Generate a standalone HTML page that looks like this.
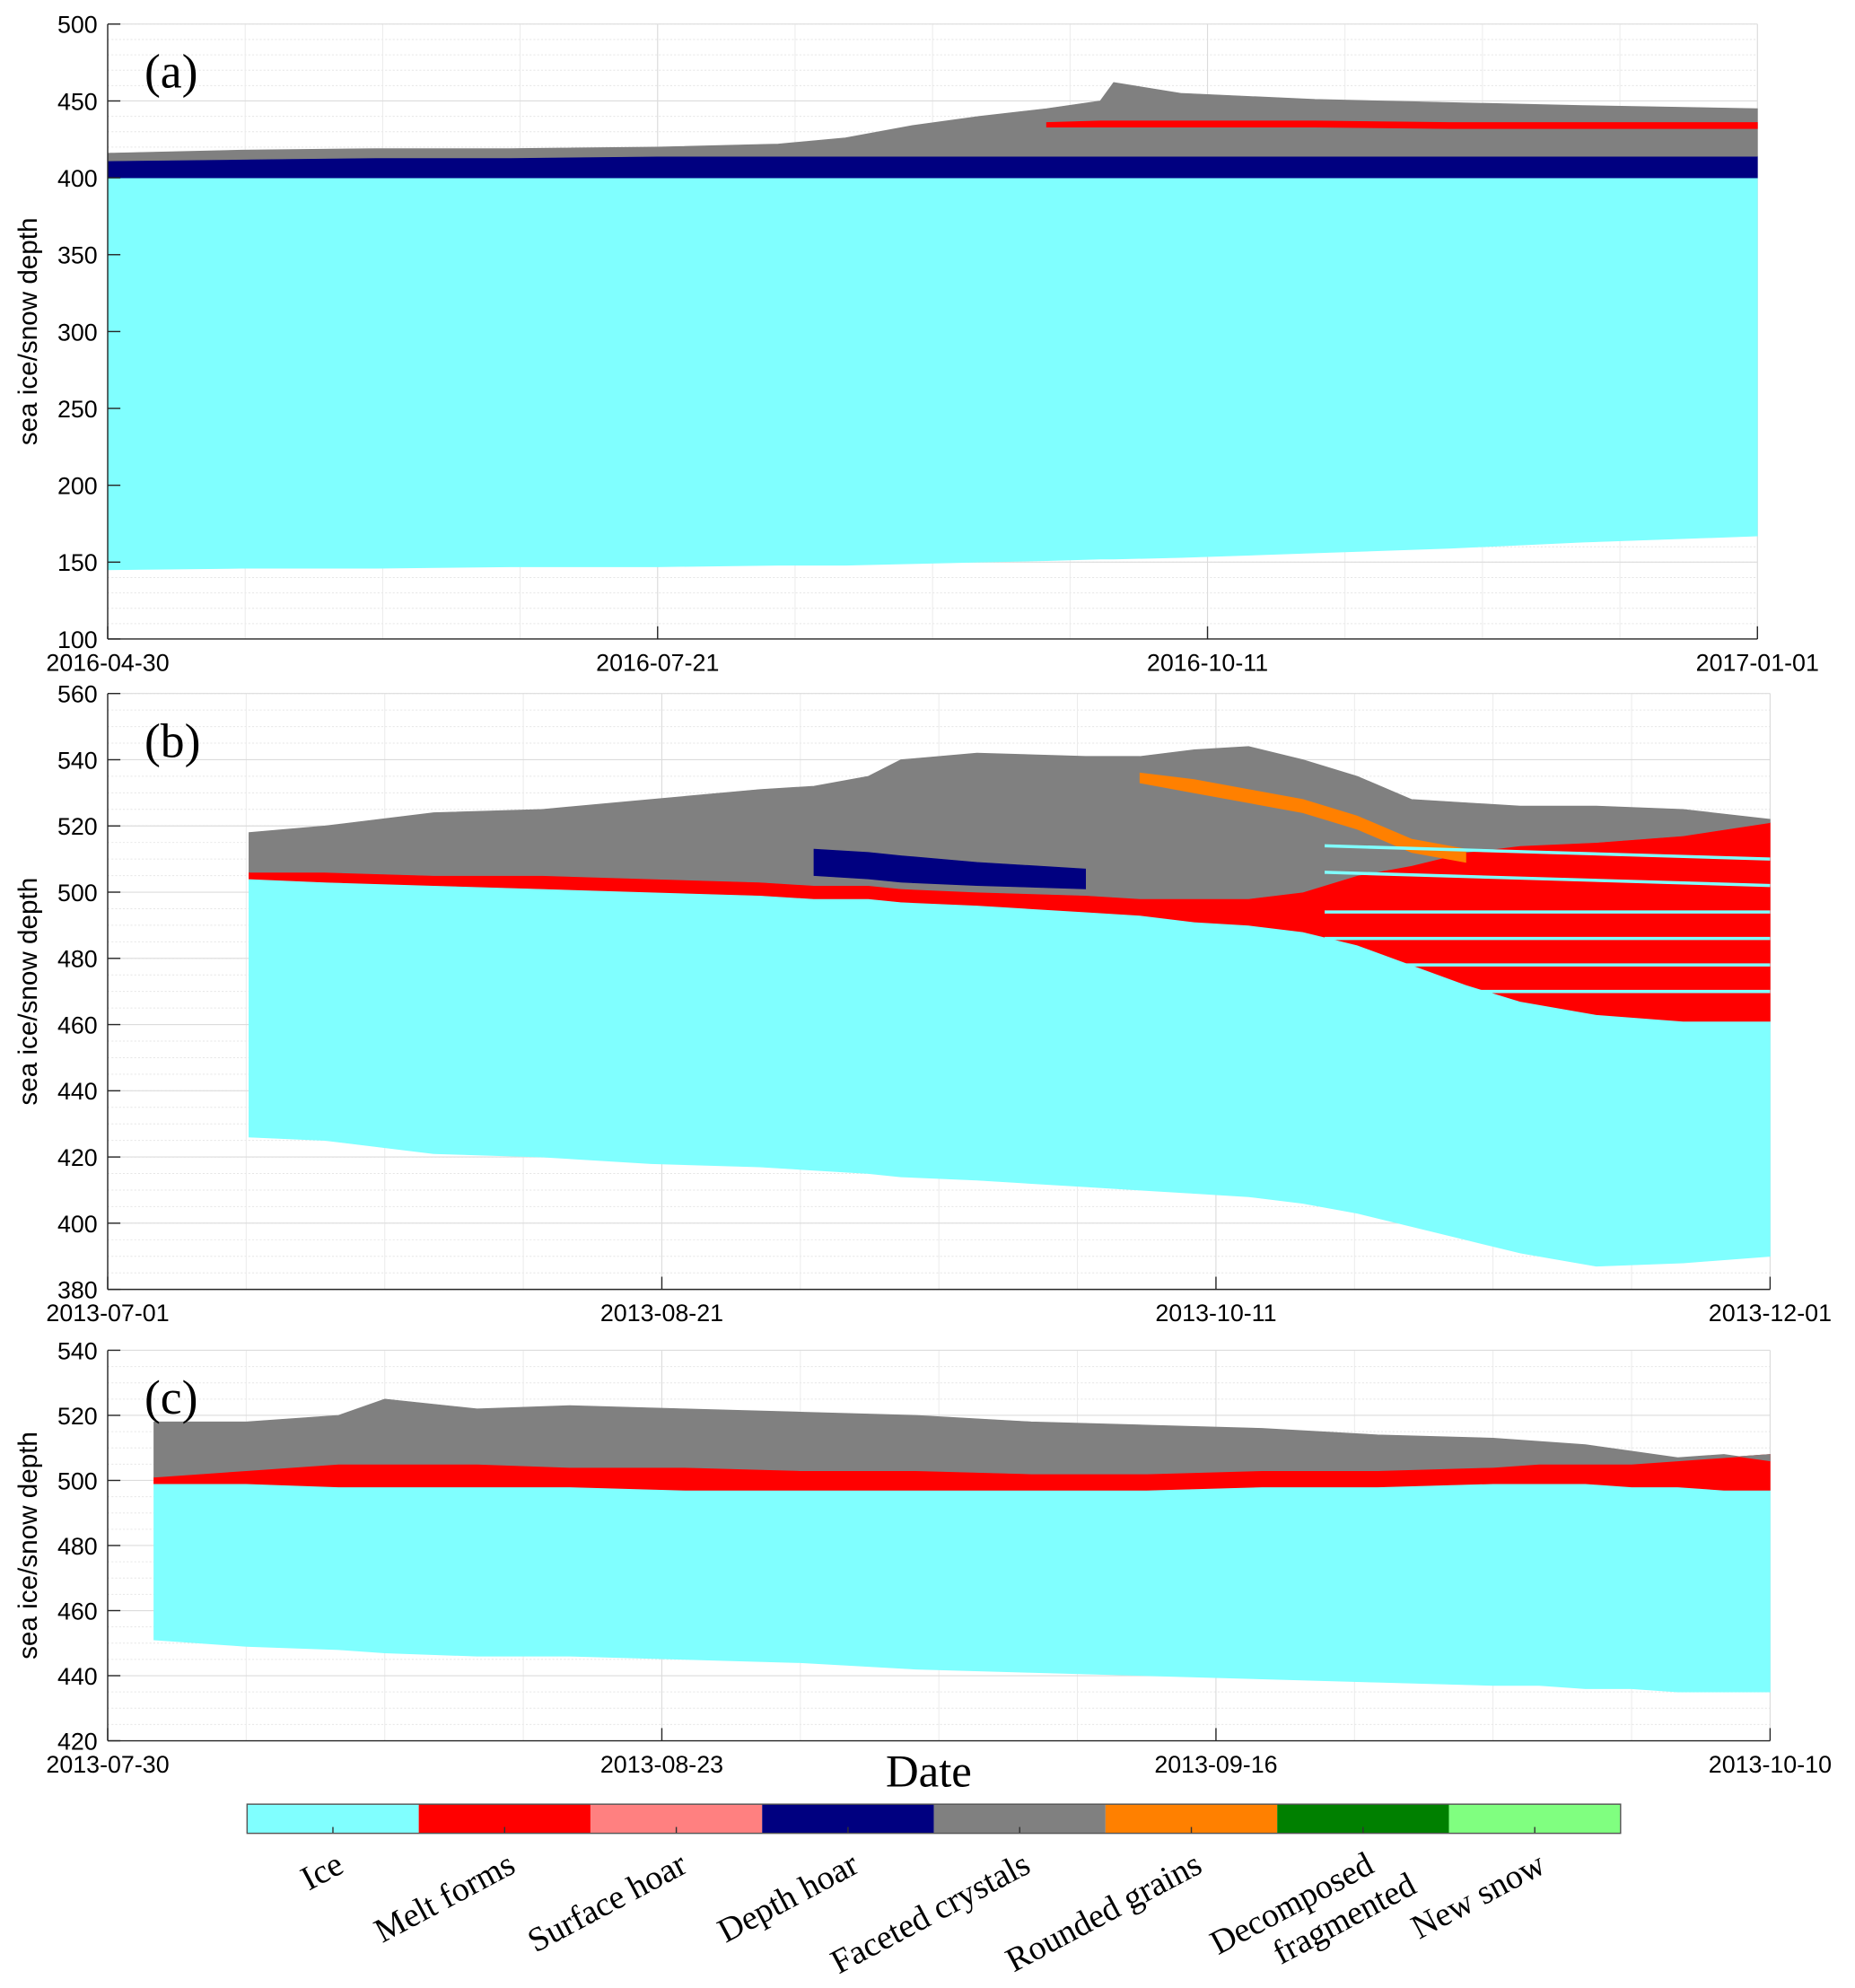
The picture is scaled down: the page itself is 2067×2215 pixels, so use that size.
<!DOCTYPE html>
<html><head><meta charset="utf-8"><style>
html,body{margin:0;padding:0;background:#fff}
svg{display:block}
</style></head><body>
<svg id="fig" width="2067" height="2215" viewBox="0 0 1464 1568" preserveAspectRatio="none" xmlns="http://www.w3.org/2000/svg" font-family="Liberation Sans, sans-serif"></svg>
<script>
const COL={ice:'#80ffff',melt:'#ff0000',shoar:'#ff8080',dhoar:'#000080',facet:'#808080',round:'#ff8000',decomp:'#008000',newsnow:'#80ff80'};
// ---- Panel A data ----
const aDays=[0,20,40,60,82,100,110,120,130,140,148,150,160,180,200,220,246];
const aIceBot=[145,146,146,147,147,148,148,149,150,151,152,152,153,156,159,163,167];
const aIceTop=[400,400,400,400,400,400,400,400,400,400,400,400,400,400,400,400,400];
const aHoarTop=[411,412,413,413,414,414,414,414,414,414,414,414,414,414,414,414,414];
const aMeltBot=[0,0,0,0,0,0,0,0,0,433,433,433,433,433,432,432,432];
const aMeltTop=[0,0,0,0,0,0,0,0,0,436,437,437,437,437,436,436,436];
const aSnowTop=[416,418,419,419,420,422,426,434,440,445,450,462,455,451,449,447,445];
// ---- Panel B data ----
const bDays=[13,20,30,40,50,60,65,70,73,80,90,95,100,105,110,115,120,125,130,137,145,153];
const bIceBot=[426,425,421,420,418,417,416,415,414,413,411,410,409,408,406,403,399,395,391,387,388,390];
const bIceTop=[504,503,502,501,500,499,498,498,497,496,494,493,491,490,488,484,478,472,467,463,461,461];
const bMeltTop=[506,506,505,505,504,503,502,502,501,500,499,498,498,498,500,505,508,512,514,515,517,521];
const bSnowTop=[518,520,524,525,528,531,532,535,540,542,541,541,543,544,540,535,528,527,526,526,525,522];
const bHoarBot=[0,0,0,0,0,0,505,504,503,502,501,0,0,0,0,0,0,0,0,0,0,0];
const bHoarTop=[0,0,0,0,0,0,513,512,511,509,507,0,0,0,0,0,0,0,0,0,0,0];
const bRoundBot=[0,0,0,0,0,0,0,0,0,0,0,533,530,527,524,519,512,509,0,0,0,0];
const bRoundTop=[0,0,0,0,0,0,0,0,0,0,0,536,534,531,528,523,516,513,0,0,0,0];
const bStripes=[470,478,486,494,502,510];
// ---- Panel C data ----
const cDays=[2,6,10,12,16,20,25,30,35,40,45,50,55,60,62,64,66,68,70,72];
const cIceBot=[451,449,448,447,446,446,445,444,442,441,440,439,438,437,437,436,436,435,435,435];
const cIceTop=[499,499,498,498,498,498,497,497,497,497,497,498,498,499,499,499,498,498,497,497];
const cMeltTop=[501,503,505,505,505,504,504,503,503,502,502,503,503,504,505,505,505,506,507,508];
const cSnowTop=[518,518,520,525,522,523,522,521,520,518,517,516,514,513,512,511,509,507,508,506];
// ---- Legend ----
const legendLabels=[['Ice'],['Melt forms'],['Surface hoar'],['Depth hoar'],['Faceted crystals'],['Rounded grains'],['Decomposed','fragmented'],['New snow']];
const legendKeys=['ice','melt','shoar','dhoar','facet','round','decomp','newsnow'];
const aTicks=['2016-04-30','2016-07-21','2016-10-11','2017-01-01'];
const bTicks=['2013-07-01','2013-08-21','2013-10-11','2013-12-01'];
const cTicks=['2013-07-30','2013-08-23','2013-09-16','2013-10-10'];

const svg=document.getElementById('fig');
const NS='http://www.w3.org/2000/svg';
function mk(tag,attrs,parent){const e=document.createElementNS(NS,tag);for(const k in attrs)e.setAttribute(k,attrs[k]);(parent||svg).appendChild(e);return e;}

function panel(cfg){
  const g=mk('g',{});
  
  
  const {x0,x1,y0,y1,dmax,vmin,vmax}=cfg;
  const X=d=>x0+(x1-x0)*d/dmax, Y=v=>y1-(y1-y0)*(v-vmin)/(vmax-vmin);
  for(let v=vmin;v<=vmax;v+=cfg.minor){mk('line',{x1:x0,x2:x1,y1:Y(v),y2:Y(v),stroke:'#e6e6e6','stroke-width':0.7,'stroke-dasharray':'1.5 1.5'},g);}
  for(let i=0;i<=12;i++){const d=dmax*i/12;mk('line',{x1:X(d),x2:X(d),y1:y0,y2:y1,stroke:'#ebebeb','stroke-width':0.7},g);}
  for(let v=vmin;v<=vmax;v+=cfg.major){mk('line',{x1:x0,x2:x1,y1:Y(v),y2:Y(v),stroke:'#dcdcdc','stroke-width':0.8},g);}
  for(let i=0;i<4;i++){const d=dmax*i/3;mk('line',{x1:X(d),x2:X(d),y1:y0,y2:y1,stroke:'#dcdcdc','stroke-width':0.8},g);}
  function band(days,lo,hi,col,nm){
    let seg=[];const segs=[];
    days.forEach((d,i)=>{if(lo[i]>0&&hi[i]>0)seg.push(i);else if(seg.length){segs.push(seg);seg=[];}});
    if(seg.length)segs.push(seg);
    segs.forEach(s=>{
      let pts=[];
      s.forEach(i=>pts.push(X(days[i])+','+Y(hi[i])));
      for(let k=s.length-1;k>=0;k--){const i=s[k];pts.push(X(days[i])+','+Y(lo[i]));}
      const p=mk('polygon',{points:pts.join(' '),fill:col,stroke:col,'stroke-width':0.5},g);
      
      
    });
  }
  cfg.bands.forEach(b=>band(cfg.days,b[0],b[1],b[2],b[3]));
  if(cfg.extra)cfg.extra(g,X,Y);
  mk('line',{x1:x0,x2:x0,y1:y0,y2:y1,stroke:'#262626','stroke-width':1},g);
  mk('line',{x1:x0,x2:x1,y1:y1,y2:y1,stroke:'#262626','stroke-width':1},g);
  for(let v=vmin;v<=vmax;v+=cfg.major){
    mk('line',{x1:x0,x2:x0+10,y1:Y(v),y2:Y(v),stroke:'#262626','stroke-width':1},g);
    const t=mk('text',{x:x0-8,y:Y(v)+7,'text-anchor':'end','font-size':19,fill:'#000'},g);t.textContent=v;
    
  }
  cfg.ticks.forEach((lab,i)=>{const d=dmax*i/3;
    mk('line',{x1:X(d),x2:X(d),y1:y1,y2:y1-10,stroke:'#262626','stroke-width':1},g);
    const t=mk('text',{x:X(d),y:y1+25,'text-anchor':'middle','font-size':19,fill:'#000'},g);t.textContent=lab;
    });
  const yl=mk('text',{x:0,y:0,transform:`translate(29,${(y0+y1)/2}) rotate(-90)`,'text-anchor':'middle','font-size':21,fill:'#000'},g);
  yl.textContent='sea ice/snow depth';
  
  const pl=mk('text',{x:114,y:y0+50,'font-size':38,'font-family':'Liberation Serif, serif',fill:'#000'},g);
  pl.textContent=cfg.label;
  
}

panel({name:'panel-a',label:'(a)',x0:85,x1:1387,y0:19,y1:504,dmax:246,vmin:100,vmax:500,major:50,minor:10,ticks:aTicks,days:aDays,
 bands:[[aIceBot,aIceTop,COL.ice,'ice-layer'],[aIceTop,aHoarTop,COL.dhoar,'depth-hoar-layer'],[aHoarTop,aSnowTop,COL.facet,'faceted-layer'],[aMeltBot,aMeltTop,COL.melt,'melt-layer']]});
panel({name:'panel-b',label:'(b)',x0:85,x1:1397,y0:547,y1:1017,dmax:153,vmin:380,vmax:560,major:20,minor:5,ticks:bTicks,days:bDays,
 bands:[[bIceBot,bIceTop,COL.ice,'ice-layer'],[bIceTop,bMeltTop,COL.melt,'melt-layer'],[bMeltTop,bSnowTop,COL.facet,'faceted-layer'],[bHoarBot,bHoarTop,COL.dhoar,'depth-hoar-layer'],[bRoundBot,bRoundTop,COL.round,'rounded-grains-layer']],
 extra:(g,X,Y)=>{bStripes.forEach(v=>{const l=mk('line',{x1:X(112),x2:X(153),y1:Y(v+(v>500?4:0)),y2:Y(v),stroke:COL.ice,'stroke-width':2.5},g);
   });}});
panel({name:'panel-c',label:'(c)',x0:85,x1:1397,y0:1065,y1:1373,dmax:72,vmin:420,vmax:540,major:20,minor:5,ticks:cTicks,days:cDays,
 bands:[[cIceBot,cIceTop,COL.ice,'ice-layer'],[cIceTop,cMeltTop,COL.melt,'melt-layer'],[cMeltTop,cSnowTop,COL.facet,'faceted-layer']]});

const dl=mk('text',{x:733,y:1409,'text-anchor':'middle','font-size':36,'font-family':'Liberation Serif, serif',fill:'#000'});
dl.textContent='Date';


const lg=mk('g',{});

const lx0=195,lx1=1279,ly=1423,lh=23,w=(lx1-lx0)/8;
legendKeys.forEach((k,i)=>{
  const r=mk('rect',{x:lx0+i*w,y:ly,width:w,height:lh,fill:COL[k]},lg);
  
  mk('line',{x1:lx0+(i+.5)*w,x2:lx0+(i+.5)*w,y1:ly+lh,y2:ly+lh-5,stroke:'#333'},lg);
  const cx=lx0+(i+.5)*w+10, cy=ly+lh+30;
  const t=mk('text',{transform:`translate(${cx},${cy}) rotate(-28)`,'text-anchor':'end','font-size':27,'font-family':'Liberation Serif, serif',fill:'#000'},lg);
  
  legendLabels[i].forEach((s,j)=>{const ts=mk('tspan',{x:j*22,dy:j?30:0},t);ts.textContent=s;});
});
mk('rect',{x:lx0,y:ly,width:lx1-lx0,height:lh,fill:'none',stroke:'#555','stroke-width':1},lg);
</script>
</body></html>
